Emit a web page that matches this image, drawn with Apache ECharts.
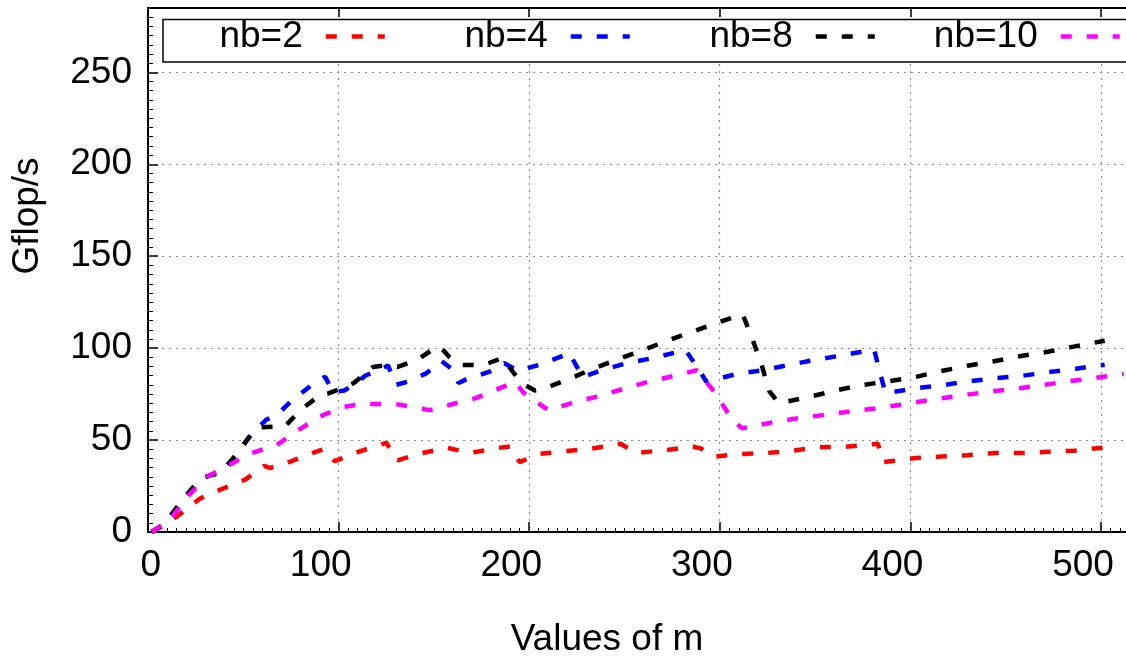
<!DOCTYPE html>
<html>
<head>
<meta charset="utf-8">
<script src="https://cdn.jsdelivr.net/npm/echarts@6/dist/echarts.min.js"></script>
<style>
  html, body { margin: 0; padding: 0; background: #ffffff; }
  #chart { width: 1126px; height: 659px; }
</style>
</head>
<body>
<div id="chart"></div>
<script>
// Gflop/s measured against the matrix size m, for four block sizes nb.
const seriesNames = ['nb=2', 'nb=4', 'nb=8', 'nb=10'];
const seriesColors = ['#ff0000', '#0000ff', '#000000', '#ff00ff'];

const xTicks = [0, 100, 200, 300, 400, 500];
const yTicks = [0, 50, 100, 150, 200, 250];

// [m, Gflop/s]
const nb2 = [[2,0],[15,8.3],[27,18],[39,23.5],[51,28.5],[61,36],[64,34.8],[75,38.4],[88,43.6],[92,45],[98,38.5],[110,43.5],[125,48.5],[131,39],[144,43],[157,45.8],[169,43],[183,45.6],[190,46.5],[195,38],[205,42.4],[220,44],[234,45.6],[248,48],[256,43],[272,44.6],[286,46.4],[290,45.5],[297,41],[311,42.4],[325,43],[338,44.2],[351,46],[366,46.4],[383,48],[386,38],[403,40.2],[416,41],[430,41.8],[444,42.9],[458,42.9],[472,43.6],[486,44.2],[502,46]];

const nb4 = [[2,0],[8,3.8],[16,13],[24,24],[28,29],[33,31],[37,32],[41,35.5],[47,43],[55,54],[62,61],[68,64],[75,71],[86,80],[93,84.5],[97,76],[103,77],[108,80],[114,85],[126,90.5],[130,80],[136,81.7],[146,86.3],[154,93],[159,89],[163,81],[167,83],[180,87.5],[187,91.8],[194,87.7],[205,90.8],[218,96],[221,97.5],[228,84.2],[238,88],[252,92],[266,94.8],[282,99],[288,90],[293,81.7],[309,86],[323,88],[337,91],[351,93.8],[365,96.2],[381,99.3],[384,87],[387,75.5],[404,78.3],[418,80],[431,82],[445,83.7],[459,85],[473,87],[487,88.8],[502,91]];

const nb8 = [[2,0],[8,3.8],[18,17.4],[26,27.3],[28,29],[33,31],[37,32],[41,35.5],[47,43],[56,56],[59,57],[72,57.6],[80,66.3],[91,75],[95,75.5],[104,79],[108,81],[116,88],[118,89.8],[126,90.8],[131,89.8],[141,93.5],[152,101],[154,100],[158,95.3],[164,90.8],[176,90.8],[186,94.6],[196,81],[203,77],[207,77.7],[220,82.8],[233,88.6],[246,93.7],[259,98.6],[272,103.8],[285,108.7],[298,113.6],[312,118.5],[317,105.4],[322,90.8],[326,76.6],[331,70],[347,73.5],[361,77],[375,80],[389,82],[403,84.4],[416,87.5],[430,90.4],[444,92.9],[458,95.7],[472,98],[485,100.7],[502,104]];

const nb10 = [[2,0],[11.5,6.5],[20,18.5],[31,30],[41,35.5],[54,42.8],[67.5,47.3],[80.6,56.5],[90,62.7],[102,68],[115,70],[118,69.6],[130,69.6],[145,66.8],[148,66.3],[160,69.6],[172,72.8],[186,78.8],[192.5,81.7],[197,75.8],[210,66.3],[222,70],[235,73.5],[249,77.7],[262,81.5],[275.5,84.8],[288,88],[297.5,75.8],[305,63.6],[311.5,56.4],[315,57],[328.5,59.8],[342,62],[356,63.8],[370,65.8],[384,67.5],[398,69.7],[411,71.9],[425,74],[439,76],[453,77.7],[467,79.5],[481,81.7],[494,83.3],[512,86]];

const seriesData = [nb2, nb4, nb8, nb10];

const FONT = 'Liberation Sans, Arial, Helvetica, sans-serif';
const FS = 37;
const dash = [11, 15];
const gridDots = { color: '#8c8c8c', width: 1.2, type: [2, 5] };

// right offsets of each key entry (sample end) inside the key box
const legendRight = [739, 494, 249, 4];

const chart = echarts.init(document.getElementById('chart'), null, { renderer: 'canvas' });

const option = {
  animation: false,
  backgroundColor: '#ffffff',
  grid: { left: 148, top: 8, width: 991, height: 524, containLabel: false, outerBoundsMode: 'none' },
  xAxis: [
    {
      type: 'value', position: 'bottom', min: 0, max: 520, interval: 100,
      axisLine: { show: true, onZero: false, lineStyle: { color: '#000', width: 2 } },
      axisTick: { show: true, inside: true, length: 10, lineStyle: { color: '#000', width: 1.5 } },
      minorTick: { show: true, splitNumber: 20, length: 4, lineStyle: { color: '#000', width: 1 } },
      splitLine: { show: true, lineStyle: gridDots },
      axisLabel: {
        show: true, margin: 15, color: '#000', fontFamily: FONT, fontSize: FS,
        align: 'right', padding: [0, -13, 0, 0],
        formatter: v => (xTicks.indexOf(v) >= 0 ? String(v) : '')
      }
    },
    {
      type: 'value', position: 'top', min: 0, max: 520, interval: 100,
      axisLine: { show: true, onZero: false, lineStyle: { color: '#000', width: 2 } },
      axisTick: { show: true, inside: true, length: 9, lineStyle: { color: '#000', width: 1.5 } },
      axisLabel: { show: false },
      splitLine: { show: false }
    }
  ],
  yAxis: [
    {
      type: 'value', min: 0, max: 285, interval: 50,
      axisLine: { show: true, onZero: false, lineStyle: { color: '#000', width: 2 } },
      axisTick: { show: true, inside: true, length: 10, lineStyle: { color: '#000', width: 1.5 } },
      minorTick: { show: true, splitNumber: 10, length: 5, lineStyle: { color: '#000', width: 1 } },
      splitLine: { show: true, lineStyle: gridDots },
      axisLabel: {
        show: true, margin: 16, color: '#000', fontFamily: FONT, fontSize: FS,
        padding: [0, 0, 10, 0],
        formatter: v => (yTicks.indexOf(v) >= 0 ? String(v) : '')
      }
    }
  ],
  legend: seriesNames.map((name, i) => ({
    data: [name],
    right: legendRight[i],
    top: 18,
    padding: 0,
    align: 'right',
    orient: 'horizontal',
    itemWidth: 59,
    itemHeight: 4,
    selectedMode: false,
    z: 6,
    itemStyle: { opacity: 0 },
    lineStyle: { width: 4.5, type: dash, cap: 'butt' },
    textStyle: { color: '#000', fontFamily: FONT, fontSize: FS, padding: [0, 18, 9, 0] }
  })),
  graphic: [
    {
      type: 'rect', z: 3,
      shape: { x: 163, y: 19.5, width: 1000, height: 42.5 },
      style: { fill: '#ffffff', stroke: '#000000', lineWidth: 1.5 }
    },
    {
      type: 'text', z: 5, x: 607, y: 640,
      style: { text: 'Values of m', fill: '#000', font: FS + 'px ' + FONT, align: 'center', verticalAlign: 'middle' }
    },
    {
      type: 'text', z: 5, x: 28, y: 216, rotation: Math.PI / 2,
      style: { text: 'Gflop/s', fill: '#000', font: FS + 'px ' + FONT, align: 'center', verticalAlign: 'middle' }
    }
  ],
  series: seriesNames.map((name, i) => ({
    name: name,
    type: 'line',
    data: seriesData[i],
    xAxisIndex: 0,
    yAxisIndex: 0,
    symbol: 'none',
    showSymbol: false,
    clip: true,
    color: seriesColors[i],
    lineStyle: { color: seriesColors[i], width: 4.5, type: dash, cap: 'butt' },
    z: 2 + i
  }))
};

chart.setOption(option);
</script>
</body>
</html>
